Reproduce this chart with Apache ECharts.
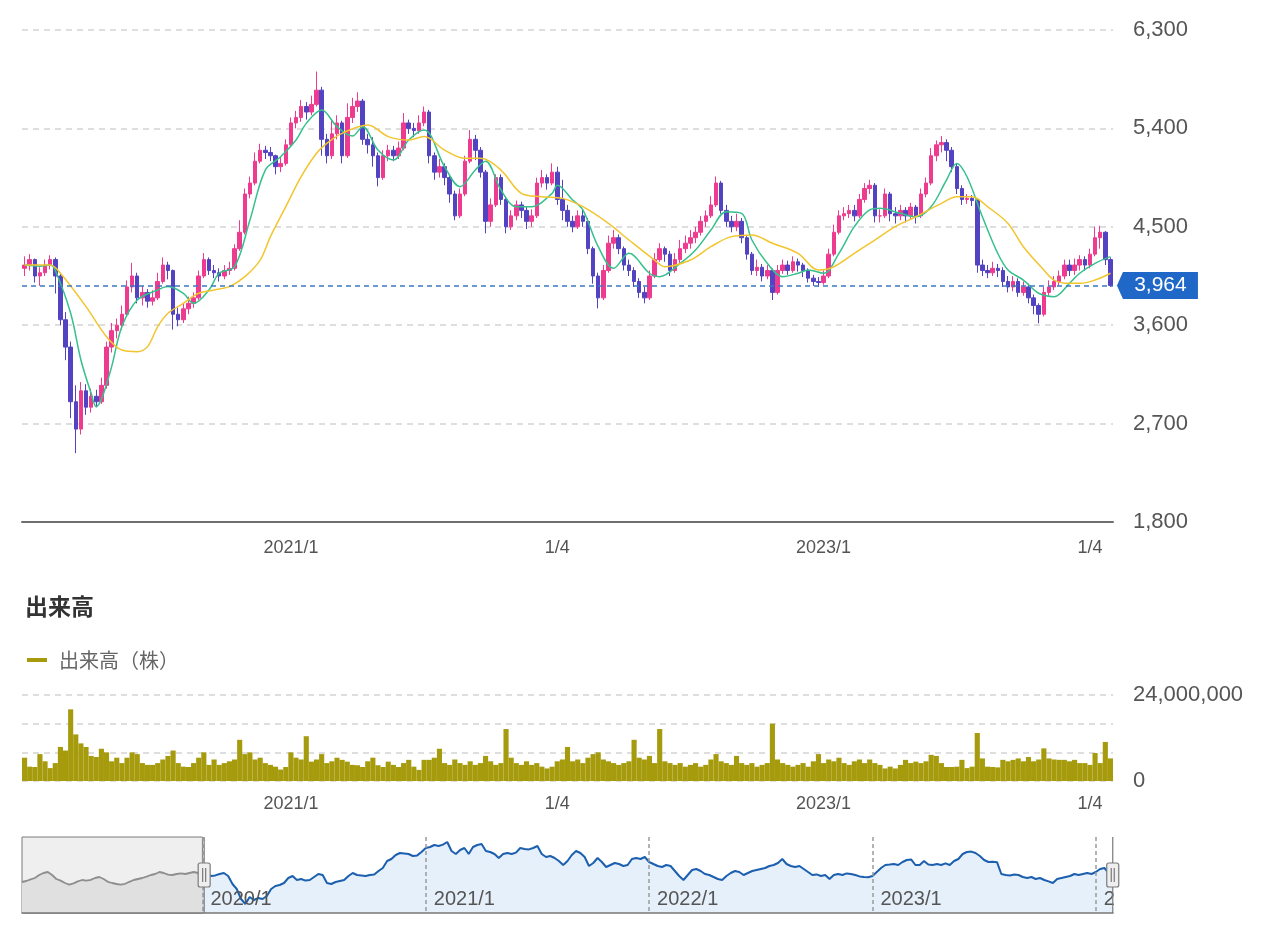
<!DOCTYPE html>
<html><head><meta charset="utf-8">
<script src="https://cdn.jsdelivr.net/npm/echarts@6/dist/echarts.min.js"></script>
<style>html,body{margin:0;padding:0;background:#fff}#c{width:1279px;height:926px}</style>
</head><body><div id="c"></div>
<script>
// ---- data (weekly) ----
const firstWeekUTC = [2019, 2, 18];   // 2019/3/18, weekly categories
const zoomStart = '2020/1/6';
// closes before the zoom window (only visible in the navigator)
const navClose2019 = [3750,3800,3880,3950,4100,4200,4250,4100,3900,3820,3700,3620,3680,3780,3850,3820,3860,3950,4000,3900,3760,3700,3650,3620,3660,3760,3850,3900,3950,4020,4100,4150,4250,4200,4120,4100,4150,4180,4150,4200,4250,4200];
// [open, close, low, high] from 2020/1/6
const ohlc = [
[4120,4150,4050,4230],[4150,4200,4100,4250],[4200,4050,3990,4210],[4050,4080,3960,4130],
[4080,4150,4050,4200],[4150,4200,4110,4240],[4200,4050,3890,4220],[4050,3650,3600,4080],
[3650,3400,3280,3720],[3400,2900,2750,3450],[2900,2650,2430,3050],[2650,3000,2600,3080],
[3000,2850,2780,3060],[2850,2950,2800,3020],[2950,2900,2850,3010],[2900,3050,2880,3120],
[3050,3400,3020,3450],[3400,3550,3350,3620],[3550,3600,3480,3660],[3600,3700,3560,3780],
[3700,3950,3680,4010],[3950,4050,3900,4170],[4050,3850,3800,4080],[3850,3900,3780,3960],
[3900,3820,3760,3930],[3820,3850,3780,3920],[3850,4000,3830,4080],[4000,4150,3980,4220],
[4150,4100,4020,4180],[4100,3700,3560,4110],[3700,3650,3590,3760],[3650,3750,3620,3800],
[3750,3800,3700,3860],[3800,3850,3760,3900],[3850,4050,3830,4100],[4050,4200,4030,4260],
[4200,4100,4060,4220],[4100,4080,4030,4150],[4080,4050,4000,4120],[4050,4100,4020,4150],
[4100,4120,4060,4180],[4120,4300,4100,4340],[4300,4450,4280,4560],[4450,4800,4430,4850],
[4800,4900,4760,4960],[4900,5100,4880,5180],[5100,5200,5080,5260],[5200,5180,5120,5240],
[5180,5150,5100,5230],[5150,5050,4980,5160],[5050,5080,5000,5140],[5080,5250,5060,5300],
[5250,5450,5230,5500],[5450,5500,5400,5560],[5500,5600,5460,5660],[5600,5550,5480,5640],
[5550,5620,5520,5700],[5620,5750,5600,5920],[5750,5300,5150,5780],[5300,5150,5080,5350],
[5150,5350,5120,5480],[5350,5450,5300,5520],[5450,5150,5080,5470],[5150,5500,5130,5630],
[5500,5600,5450,5680],[5600,5650,5550,5730],[5650,5300,5250,5670],[5300,5250,5170,5350],
[5250,5150,5050,5320],[5150,4950,4870,5180],[4950,5150,4930,5200],[5150,5200,5100,5250],
[5200,5150,5100,5240],[5150,5220,5120,5280],[5220,5450,5200,5540],[5450,5400,5350,5480],
[5400,5380,5320,5450],[5380,5450,5350,5520],[5450,5550,5420,5600],[5550,5150,5080,5570],
[5150,5000,4930,5180],[5000,5050,4950,5120],[5050,4950,4880,5080],[4950,4800,4720,4980],
[4800,4600,4560,4830],[4600,4800,4580,4850],[4800,5100,4780,5150],[5100,5300,5080,5385],
[5300,5200,5110,5340],[5200,5000,4950,5230],[5000,4550,4440,5020],[4550,4700,4500,4760],
[4700,4950,4680,4980],[4950,4750,4700,4980],[4750,4500,4440,4780],[4500,4600,4470,4650],
[4600,4700,4560,4740],[4700,4650,4580,4730],[4650,4550,4480,4680],[4550,4600,4500,4660],
[4600,4900,4580,4950],[4900,4950,4860,5020],[4950,4900,4840,4980],[4900,5000,4880,5080],
[5000,4750,4700,5050],[4750,4650,4560,4930],[4650,4550,4500,4700],[4550,4500,4450,4600],
[4500,4600,4480,4650],[4600,4550,4500,4660],[4550,4300,4250,4580],[4300,4050,3980,4320],
[4050,3850,3754,4080],[3850,4100,3830,4150],[4100,4350,4080,4420],[4350,4400,4300,4470],
[4400,4300,4250,4430],[4300,4150,4100,4320],[4150,4100,4050,4200],[4100,4000,3950,4130],
[4000,3900,3850,4030],[3900,3850,3800,3950],[3850,4050,3830,4100],[4050,4200,4030,4260],
[4200,4300,4180,4350],[4300,4250,4180,4320],[4250,4100,4050,4280],[4100,4200,4080,4260],
[4200,4300,4170,4380],[4300,4350,4260,4420],[4350,4400,4300,4470],[4400,4450,4350,4500],
[4450,4550,4420,4600],[4550,4600,4500,4650],[4600,4700,4580,4780],[4700,4900,4680,4960],
[4900,4650,4620,4920],[4650,4550,4500,4700],[4550,4500,4450,4600],[4500,4550,4460,4620],
[4550,4400,4350,4580],[4400,4250,4200,4420],[4250,4100,4060,4270],[4100,4130,4050,4200],
[4130,4050,4000,4160],[4050,4100,4020,4150],[4100,3900,3830,4120],[3900,4100,3880,4150],
[4100,4150,4070,4200],[4150,4100,4060,4190],[4100,4180,4080,4230],[4180,4150,4090,4210],
[4150,4100,4040,4170],[4100,4030,3990,4120],[4030,4000,3960,4060],[4000,3990,3950,4040],
[3990,4050,3970,4100],[4050,4250,4030,4300],[4250,4450,4230,4520],[4450,4600,4430,4650],
[4600,4620,4560,4680],[4620,4650,4580,4700],[4650,4600,4550,4700],[4600,4750,4580,4800],
[4750,4850,4720,4900],[4850,4880,4800,4930],[4880,4600,4540,4900],[4600,4600,4540,4660],
[4600,4800,4580,4850],[4800,4620,4550,4820],[4620,4600,4530,4680],[4600,4650,4560,4700],
[4650,4600,4540,4680],[4600,4680,4570,4720],[4680,4600,4530,4700],[4600,4800,4580,4850],
[4800,4900,4770,4950],[4900,5150,4880,5220],[5150,5250,5100,5290],[5250,5270,5180,5330],
[5270,5200,5100,5300],[5200,5050,5000,5230],[5050,4850,4800,5080],[4850,4750,4700,4880],
[4750,4760,4710,4800],[4760,4740,4690,4790],[4740,4150,4080,4760],[4150,4100,4050,4200],
[4100,4080,4030,4150],[4080,4120,4050,4180],[4120,4100,4040,4160],[4100,4000,3950,4130],
[4000,3950,3900,4050],[3950,4000,3910,4050],[4000,3900,3860,4030],[3900,3950,3870,4000],
[3950,3850,3800,3980],[3850,3780,3700,3880],[3780,3700,3617,3800],[3700,3900,3680,3950],
[3900,3950,3870,4010],[3950,4000,3920,4050],[4000,4050,3960,4100],[4050,4150,4020,4200],
[4150,4100,4050,4200],[4100,4150,4060,4210],[4150,4200,4100,4240],[4200,4150,4100,4230],
[4150,4250,4120,4300],[4250,4400,4230,4500],[4400,4450,4300,4510],[4450,4200,4150,4460],
[4200,3964,3950,4220]
];
// volume (millions of shares) from 2020/1/6
const volumeMillions = [
6.5,4.0,3.9,7.5,5.5,3.6,5.0,9.5,8.5,20.0,
13.0,10.5,9.5,7.0,6.7,9.0,8.0,5.5,6.5,5.0,
6.5,8.0,7.5,5.0,4.5,4.5,5.0,6.0,7.0,8.5,
5.0,4.0,3.9,5.0,6.5,8.0,4.5,6.0,4.5,5.0,
5.5,6.0,11.5,7.5,8.0,6.0,6.5,5.0,4.5,4.0,
3.2,3.9,8.0,6.5,6.0,12.5,5.4,6.0,7.5,5.0,
5.5,6.5,5.9,5.4,4.5,4.4,3.9,5.5,6.5,4.4,
3.9,5.4,4.5,3.9,5.0,5.9,4.0,3.1,5.9,5.9,
6.5,9.0,5.0,4.5,6.0,5.0,4.5,5.5,4.5,5.0,
7.0,5.5,4.5,5.0,14.5,6.5,5.0,4.5,5.5,4.5,
5.0,4.0,3.5,4.0,5.5,6.0,9.5,5.5,6.0,5.0,
6.5,7.5,8.0,6.0,5.5,5.0,4.5,5.0,5.5,11.5,
6.5,6.0,7.0,5.0,14.5,5.5,5.0,4.5,5.0,4.0,
4.5,5.0,4.0,4.5,6.0,7.5,5.5,5.0,4.5,7.0,
5.0,4.5,5.0,4.0,4.5,5.0,16.0,6.0,5.0,4.5,
4.0,4.5,5.0,4.0,5.5,7.5,5.0,6.0,5.5,6.5,
5.0,4.5,5.5,6.0,5.0,6.0,5.0,4.5,3.5,4.0,
3.5,4.5,5.9,5.0,5.4,5.0,5.5,7.3,7.0,5.0,
3.9,3.9,4.0,5.9,3.6,4.0,13.4,6.3,4.0,3.9,
3.8,5.9,5.5,5.9,6.3,5.5,6.7,5.5,6.0,9.1,
6.3,6.0,5.9,5.9,5.5,5.9,5.0,5.0,4.5,7.8,
5.0,10.9,6.3
];
// moving averages: [week index from 2020/1/6, value]
const maShort = [[0,4150],[3,4140],[5,4150],[6,4100],[9,3709],[11,3282],[13,2977],[14,2855],[15,2920],[17,3221],[19,3587],[22,3831],[26,3922],[28,3953],[31,3892],[33,3800],[36,3922],[38,4075],[41,4135],[44,4562],[47,5019],[50,5141],[53,5294],[55,5446],[58,5568],[61,5416],[64,5330],[66,5416],[69,5202],[72,5111],[75,5294],[78,5385],[82,5050],[85,4867],[88,5019],[90,5100],[93,4837],[96,4684],[99,4684],[103,4806],[104,4880],[107,4745],[109,4654],[112,4318],[115,4120],[118,4257],[122,4075],[124,4044],[128,4166],[131,4288],[134,4470],[137,4638],[140,4623],[142,4379],[145,4166],[148,4044],[151,4075],[153,4105],[156,4075],[159,4257],[162,4501],[165,4654],[167,4669],[171,4623],[174,4592],[177,4684],[180,4928],[182,5080],[184,4958],[187,4592],[190,4257],[192,4105],[195,4013],[198,3892],[201,3861],[204,3983],[206,4075],[209,4166],[212,4227]];
const maLong = [[0,4150],[5,4150],[7,4075],[12,3770],[16,3495],[19,3373],[22,3358],[24,3404],[26,3587],[28,3709],[31,3800],[34,3892],[37,3922],[40,3953],[43,4044],[46,4196],[48,4410],[51,4684],[54,4958],[57,5172],[59,5263],[62,5355],[67,5431],[71,5325],[75,5294],[78,5325],[82,5202],[86,5126],[89,5126],[93,5019],[97,4806],[101,4775],[105,4760],[109,4684],[114,4531],[118,4379],[123,4196],[125,4135],[130,4196],[134,4318],[138,4410],[142,4425],[146,4349],[151,4257],[155,4105],[158,4135],[162,4257],[166,4379],[170,4501],[174,4592],[179,4714],[182,4775],[185,4775],[188,4684],[192,4531],[195,4318],[199,4105],[201,4013],[204,3983],[206,3983],[209,4013],[212,4075]];
// tick labels
const priceAxis = {min: 1800, max: 6300, interval: 900};
const volumeAxis = {min: 0, max: 24000000, interval: 8000000};
const xTickLabels = {'2021/1/4': '2021/1', '2022/1/3': '1/4', '2023/1/2': '2023/1', '2024/1/1': '1/4'};
const navTickLabels = {'2020/1/6': '2020/1', '2021/1/4': '2021/1', '2022/1/3': '2022/1', '2023/1/2': '2023/1', '2024/1/1': '2'};

// ---- build ----
const off = navClose2019.length;
const total = off + ohlc.length;
const t0 = Date.UTC(firstWeekUTC[0], firstWeekUTC[1], firstWeekUTC[2]);
const dates = [];
for (let k = 0; k < total; k++) {
  const d = new Date(t0 + k * 7 * 86400000);
  dates.push(d.getUTCFullYear() + '/' + (d.getUTCMonth() + 1) + '/' + d.getUTCDate());
}
const pad = navClose2019.map(() => '-');
const candleData = pad.concat(ohlc.map(r => [r[0], r[1], r[2], r[3]]));
const volData = pad.concat(volumeMillions.map(v => Math.round(v * 1e6)));
const closesAll = navClose2019.concat(ohlc.map(r => r[1]));
const navGray = closesAll.map((v, k) => k <= off ? v : null);
const navBlue = closesAll.map((v, k) => k >= off ? v : null);
const lastClose = ohlc[ohlc.length - 1][1];
const lastDate = dates[dates.length - 1];
const fmt = v => Number(v).toLocaleString('en-US');

const LAT = "'Liberation Sans', Arial, sans-serif";
const CJK = "'Noto Sans CJK JP', sans-serif";
const grid = {left: 22, right: 166};
const dashed = {color: '#d3d3d3', type: [6, 5], width: 1.5};

const chart = echarts.init(document.getElementById('c'), null, {renderer: 'canvas'});
chart.setOption({
  animation: false,
  backgroundColor: '#fff',
  title: {text: '出来高', left: 20, top: 590, textStyle: {fontSize: 23, fontWeight: 'bold', color: '#333', fontFamily: CJK}},
  legend: {data: ['出来高（株）'], left: 22, top: 645, icon: 'rect', itemWidth: 20, itemHeight: 4,
    textStyle: {fontSize: 20, color: '#666', fontFamily: CJK, padding: [0, 0, 0, 7]}},
  grid: [
    Object.assign({top: 30, height: 492}, grid),
    Object.assign({top: 695, height: 86}, grid),
    Object.assign({top: 837, height: 76}, grid)
  ],
  xAxis: [
    {gridIndex: 0, type: 'category', data: dates, boundaryGap: true,
      axisLine: {show: true, lineStyle: {color: '#6f6f6f', width: 2}}, axisTick: {show: false},
      axisLabel: {interval: (i, v) => v in xTickLabels, formatter: v => xTickLabels[v] || '', fontSize: 18, color: '#555', fontFamily: LAT, margin: 17},
      splitLine: {show: false}},
    {gridIndex: 1, type: 'category', data: dates, boundaryGap: true,
      axisLine: {show: false}, axisTick: {show: false},
      axisLabel: {interval: (i, v) => v in xTickLabels, formatter: v => xTickLabels[v] || '', fontSize: 18, color: '#555', fontFamily: LAT, margin: 14},
      splitLine: {show: false}},
    {gridIndex: 2, type: 'category', data: dates, boundaryGap: false, z: 6,
      axisLine: {show: true, lineStyle: {color: '#777', width: 1.5}}, axisTick: {show: false},
      axisLabel: {inside: true, interval: (i, v) => v in navTickLabels, formatter: v => navTickLabels[v] || '',
        align: 'left', padding: [0, 0, 0, 8], margin: 4, fontSize: 20, color: '#555', fontFamily: LAT},
      splitLine: {show: true, interval: (i, v) => v in navTickLabels, lineStyle: {color: '#9a9a9a', type: [4, 3], width: 1.5}}}
  ],
  yAxis: [
    {gridIndex: 0, type: 'value', position: 'right', min: priceAxis.min, max: priceAxis.max, interval: priceAxis.interval,
      axisLine: {show: false}, axisTick: {show: false},
      axisLabel: {formatter: fmt, fontSize: 22, color: '#555', fontFamily: LAT, margin: 20},
      splitLine: {show: true, lineStyle: dashed}},
    {gridIndex: 1, type: 'value', position: 'right', min: volumeAxis.min, max: volumeAxis.max, interval: volumeAxis.interval,
      axisLine: {show: false}, axisTick: {show: false},
      axisLabel: {formatter: v => (v === volumeAxis.min || v === volumeAxis.max) ? fmt(v) : '', fontSize: 22, color: '#555', fontFamily: LAT, margin: 20},
      splitLine: {show: true, lineStyle: dashed}},
    {gridIndex: 2, type: 'value', show: false, min: 2200, max: 6000, splitLine: {show: false}}
  ],
  dataZoom: [{
    type: 'slider', xAxisIndex: [0, 1], startValue: zoomStart, endValue: lastDate,
    left: 22, right: 166, top: 837, height: 76,
    showDataShadow: false, showDetail: false, brushSelect: false, moveHandleSize: 0,
    backgroundColor: 'rgba(0,0,0,0)', fillerColor: 'rgba(0,0,0,0)', borderColor: 'rgba(0,0,0,0)',
    handleIcon: 'path://M6,0V26M2,26H10A2,2,0,0,1,12,28V48A2,2,0,0,1,10,50H2A2,2,0,0,1,0,48V28A2,2,0,0,1,2,26ZM6,50V76M4.5,31V45M7.5,31V45',
    handleSize: '100%',
    handleStyle: {color: '#efefef', borderColor: '#7a7a7a', borderWidth: 1.2},
    emphasis: {handleStyle: {color: '#efefef', borderColor: '#7a7a7a', borderWidth: 1.2}},
    z: 10
  }],
  series: [
    {name: '株価', type: 'candlestick', xAxisIndex: 0, yAxisIndex: 0, data: candleData, barWidth: 4, clip: false,
      itemStyle: {color: '#ef3b8f', color0: '#5243c2', borderColor: '#ef3b8f', borderColor0: '#5243c2', borderWidth: 1},
      markLine: {silent: true, symbol: ['none', 'none'], label: {show: false},
        lineStyle: {color: '#3d78c0', type: [5, 4], width: 1.5}, data: [{yAxis: lastClose}]},
      markPoint: {silent: true, symbol: 'path://M0,13.5L6,0H81V27H6Z', symbolSize: [81, 27], symbolOffset: [47, 0],
        itemStyle: {color: '#1f68c8'},
        label: {show: true, position: 'inside', formatter: () => fmt(lastClose), color: '#fff', fontSize: 21, fontFamily: LAT, offset: [3, 0]},
        data: [{coord: [lastDate, lastClose], value: lastClose}]}
    },
    {name: 'MA短期', type: 'line', xAxisIndex: 0, yAxisIndex: 0, data: maShort.map(p => [p[0] + off, p[1]]),
      smooth: 0.35, showSymbol: false, lineStyle: {color: '#35c08c', width: 1.5}, z: 3},
    {name: 'MA長期', type: 'line', xAxisIndex: 0, yAxisIndex: 0, data: maLong.map(p => [p[0] + off, p[1]]),
      smooth: 0.35, showSymbol: false, lineStyle: {color: '#f2c52e', width: 1.5}, z: 3},
    {name: '出来高（株）', type: 'bar', xAxisIndex: 1, yAxisIndex: 1, data: volData, barCategoryGap: '0%',
      itemStyle: {color: '#a59b0c'}},
    {name: 'nav-gray', type: 'line', xAxisIndex: 2, yAxisIndex: 2, data: navGray, showSymbol: false,
      lineStyle: {color: '#8e8e8e', width: 1.8}, areaStyle: {color: '#e0e0e0', opacity: 1},
      markArea: {silent: true, itemStyle: {color: '#efefef', borderColor: '#7a7a7a', borderWidth: 1},
        data: [[{xAxis: dates[0]}, {xAxis: zoomStart}]]}},
    {name: 'nav-blue', type: 'line', xAxisIndex: 2, yAxisIndex: 2, data: navBlue, showSymbol: false,
      lineStyle: {color: '#1b5fae', width: 2}, areaStyle: {color: '#e6f0fa', opacity: 1}}
  ]
});
</script></body></html>
